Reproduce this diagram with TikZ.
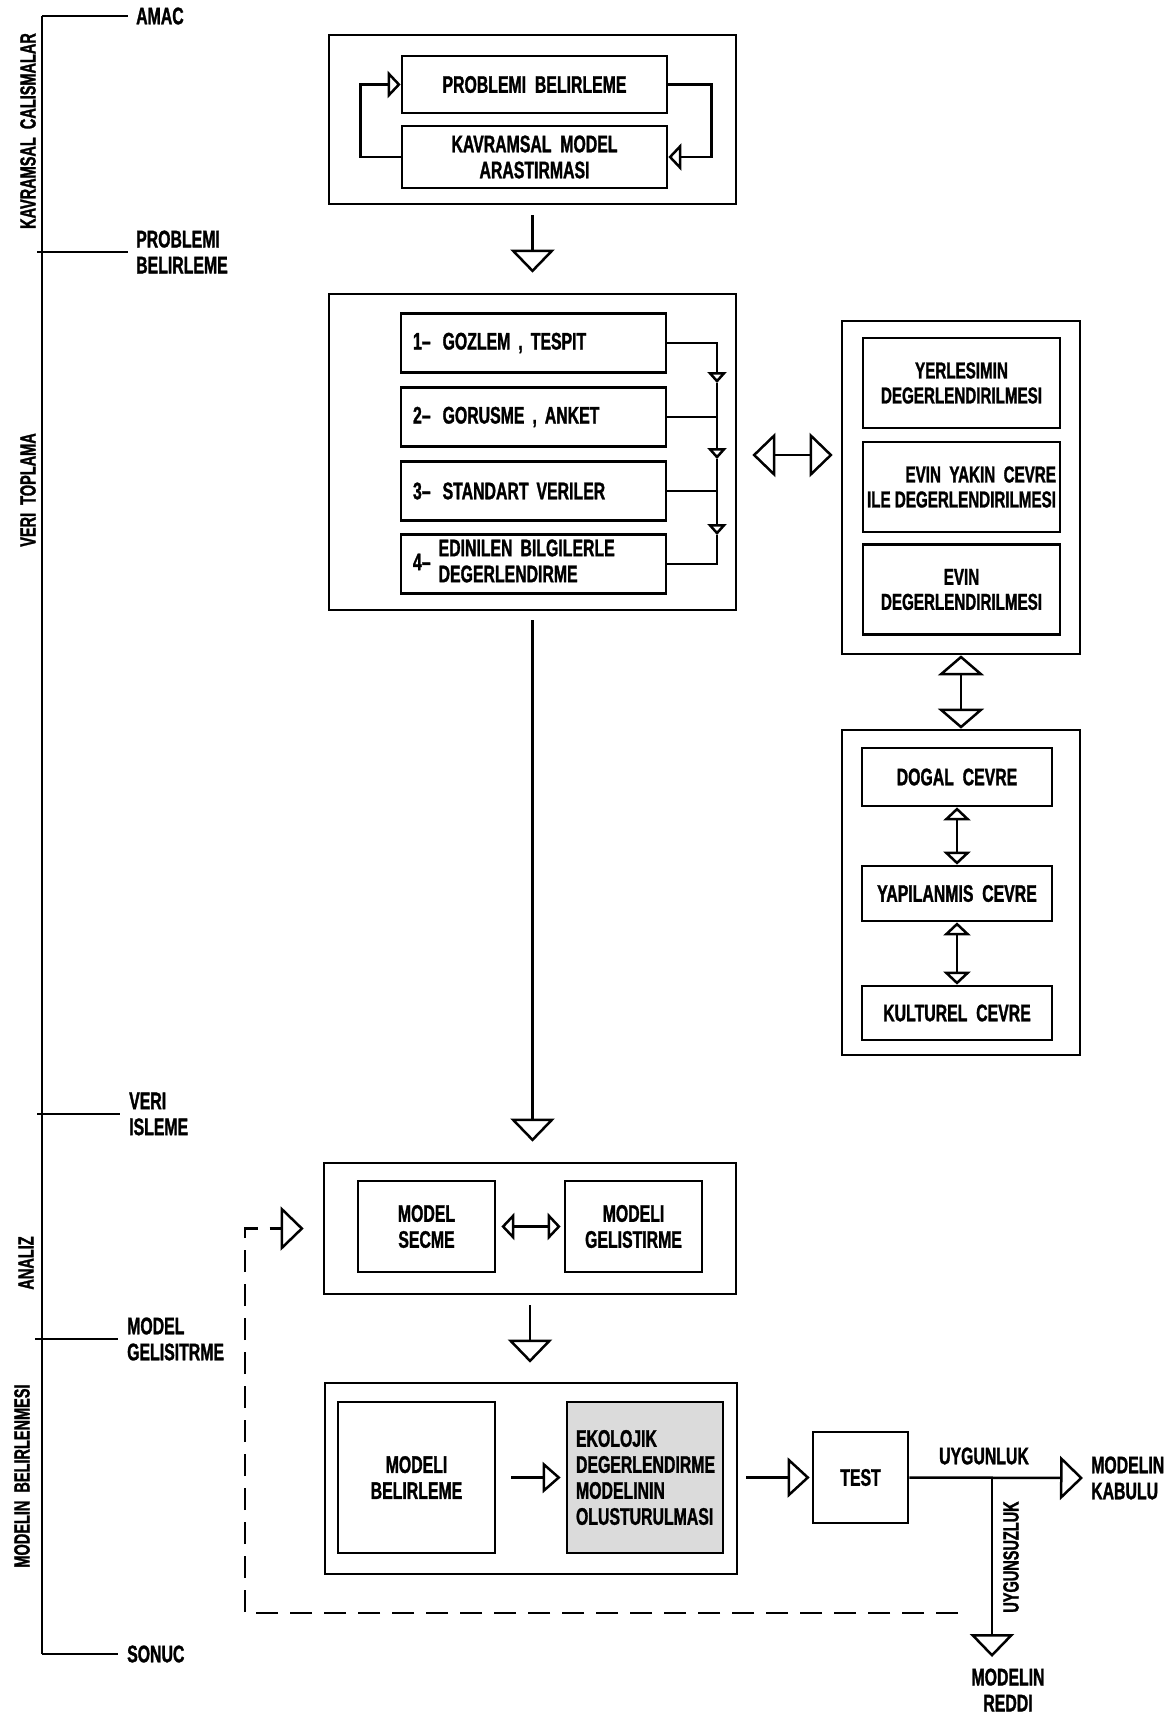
\documentclass[tikz,border=0pt]{standalone}
\usepackage{fontspec}
\setmainfont{Liberation Sans}[FakeStretch=0.66,BoldFeatures={FakeBold=1.3}]
\usetikzlibrary{arrows.meta}
\newcommand\bxfont{\fontsize{24}{26}\selectfont\bfseries}
\newcommand\cxfont{\fontsize{23}{25}\selectfont\bfseries}
\newcommand\sdfont{\fontsize{22}{24}\selectfont\bfseries}
\tikzset{
  bigtip/.tip={Triangle[open,length=23pt,width=44pt]},
  midtip/.tip={Triangle[open,length=18pt,width=31pt]},
  smalltip/.tip={Triangle[open,length=13pt,width=27pt]},
  tinytip/.tip={Triangle[open,length=11pt,width=19pt]},
  box/.style={draw,line width=2.7pt,rectangle,inner sep=0pt,align=center,font=\bxfont},
  wire/.style={line width=2.5pt},
  tickln/.style={line width=2.2pt},
  lbl/.style={inner sep=0pt,font=\bxfont,align=left},
  sidelbl/.style={inner sep=0pt,font=\sdfont,rotate=90},
}
\begin{document}
\begin{tikzpicture}[x=1pt,y=-1pt]
\useasboundingbox (0,0) rectangle (1171,1717);

% ---------- time line on the left ----------
\coordinate (tTop) at (42,16);
\coordinate (tBot) at (42,1654);
\draw[line width=2.7pt] (tTop) -- (tBot);
\node[lbl,anchor=west] (lAMAC) at (136,16) {AMAC};
\node[lbl,anchor=west] (lPB) at (136,252) {PROBLEMI\\BELIRLEME};
\node[lbl,anchor=west] (lVI) at (129,1114) {VERI\\ISLEME};
\node[lbl,anchor=west] (lMG) at (127,1339) {MODEL\\GELISITRME};
\node[lbl,anchor=west] (lSO) at (127,1654) {SONUC};
\coordinate (kPB) at (37,252);
\coordinate (kVI) at (37,1114);
\coordinate (kMG) at (35,1339);
\draw[tickln,shorten >=8pt] (tTop) -- (lAMAC.west);
\draw[tickln,shorten >=8pt] (kPB) -- (lPB.west);
\draw[tickln,shorten >=9pt] (kVI) -- (lVI.west);
\draw[tickln,shorten >=9pt] (kMG) -- (lMG.west);
\draw[tickln,shorten >=9pt] (tBot) -- (lSO.west);
\node[sidelbl] (sK) at (28,131) {KAVRAMSAL\ \ CALISMALAR};
\node[sidelbl] (sV) at (28,490) {VERI\ \ TOPLAMA};
\node[sidelbl] (sA) at (26,1263) {ANALIZ};
\node[sidelbl] (sM) at (22,1476) {MODELIN\ \ BELIRLENMESI};

% ---------- block A ----------
\node[box,minimum width=407pt,minimum height=169pt] (A) at (532.5,119.5) {};
\node[box,minimum width=265pt,minimum height=57pt] (A1) at (534.5,84.5) {PROBLEMI\ \ BELIRLEME};
\node[box,minimum width=265pt,minimum height=62pt] (A2) at (534.5,157) {KAVRAMSAL\ \ MODEL\\ARASTIRMASI};
\draw[wire,-smalltip] (A2.west) -- ++(-40,0) |- (A1.west);
\draw[wire,-smalltip] (A1.east) -- ++(43,0) |- (A2.east);

% ---------- block B ----------
\node[box,minimum width=407pt,minimum height=316pt] (B) at (532.5,452) {};
\tikzset{bbox/.style={box,minimum height=59pt,text width=241pt,inner xsep=12pt,align=left}}
\node[bbox] (B1) at (533.5,343) {1--\hspace{12pt}GOZLEM\hspace{8pt},\hspace{8pt}TESPIT};
\node[bbox] (B2) at (533.5,417) {2--\hspace{12pt}GORUSME\hspace{8pt},\hspace{8pt}ANKET};
\node[bbox] (B3) at (533.5,491) {3--\hspace{12pt}STANDART\hspace{8pt}VERILER};
\node[bbox] (B4) at (533.5,564) {4--\hspace{8pt}\begin{tabular}[c]{@{}l@{}}EDINILEN\hspace{8pt}BILGILERLE\\DEGERLENDIRME\end{tabular}};
\coordinate (t1) at (717,383);
\coordinate (t2) at (717,459);
\coordinate (t3) at (717,535);
\draw[wire,-tinytip] (B1.east) -| (t1);
\draw[wire,-tinytip] (t1) -- (t2);
\draw[wire,-tinytip] (t2) -- (t3);
\draw[wire] (t3) |- (B4.east);
\draw[wire] (B2.east) -- (B2.east -| t1);
\draw[wire] (B3.east) -- (B3.east -| t1);
\draw[wire,-bigtip,shorten <=10pt,shorten >=20pt] (A.south) -- (A.south |- B.north);

% ---------- block C ----------
\node[box,minimum width=238pt,minimum height=333pt] (C) at (961,487.5) {};
\tikzset{cbox/.style={box,font=\cxfont,minimum width=197pt,minimum height=90pt}}
\node[cbox] (C1) at (961.5,383) {YERLESIMIN\\DEGERLENDIRILMESI};
\node[cbox,align=right] (C2) at (961.5,487) {EVIN\ \ YAKIN\ \ CEVRE\\ILE\ DEGERLENDIRILMESI};
\node[cbox] (C3) at (961.5,589.5) {EVIN\\DEGERLENDIRILMESI};
\coordinate (yBC) at (0,455);
\draw[wire,bigtip-bigtip,shorten <=15pt,shorten >=8pt] (B.east |- yBC) -- (C.west |- yBC);

% ---------- block D ----------
\node[box,minimum width=238pt,minimum height=325pt] (D) at (961,892.5) {};
\tikzset{dbox/.style={box,minimum width=190pt}}
\node[dbox,minimum height=58pt] (D1) at (957,777) {DOGAL\ \ CEVRE};
\node[dbox,minimum height=55pt] (D2) at (957,893.5) {YAPILANMIS\ \ CEVRE};
\node[dbox,minimum height=54pt] (D3) at (957,1013) {KULTUREL\ \ CEVRE};
\draw[wire,{Triangle[open,length=20pt,width=46pt]}-{Triangle[open,length=20pt,width=46pt]}] (C.south) -- (D.north);
\draw[wire,smalltip-smalltip] (D1.south) -- (D2.north);
\draw[wire,smalltip-smalltip] (D2.south) -- (D3.north);

% ---------- block E ----------
\node[box,minimum width=412pt,minimum height=131pt] (E) at (530,1228.5) {};
\node[box,minimum width=137pt,minimum height=91pt] (E1) at (426.5,1226.5) {MODEL\\SECME};
\node[box,minimum width=137pt,minimum height=91pt] (E2) at (633.5,1226.5) {MODELI\\GELISTIRME};
\draw[wire,smalltip-smalltip,shorten <=5pt,shorten >=3pt] (E1.east) -- (E2.west);
\draw[wire,-bigtip,shorten <=9pt,shorten >=20pt] (B.south) -- (B.south |- E.north);

% ---------- block F ----------
\node[box,minimum width=412pt,minimum height=191pt] (F) at (531,1478.5) {};
\node[box,minimum width=157pt,minimum height=151pt] (F1) at (416.5,1477.5) {MODELI\\BELIRLEME};
\node[box,fill=black!14,minimum width=156pt,minimum height=151pt,text width=138pt,inner xsep=9pt,align=left] (F2) at (645,1477.5) {EKOLOJIK\\DEGERLENDIRME\\MODELININ\\OLUSTURULMASI};
\draw[wire,-midtip,shorten <=15pt,shorten >=5pt] (F1.east) -- (F2.west);
\draw[wire,-bigtip,shorten <=10pt,shorten >=19pt] (E.south) -- (E.south |- F.north);

% ---------- test and outcomes ----------
\node[box,minimum width=95pt,minimum height=91pt] (T) at (860.5,1477.5) {TEST};
\draw[wire,-{Triangle[open,length=22pt,width=40pt]},shorten <=8pt,shorten >=2pt] (F.east |- T.west) -- (T.west);
\node[lbl,anchor=west] (KAB) at (1091,1478) {MODELIN\\KABULU};
\draw[wire,-bigtip,shorten >=8pt] (T.east) -- (KAB.west);
\node[lbl] (UY) at (984,1456) {UYGUNLUK};
\coordinate (J) at (992,1477.5);
\coordinate (Rtip) at (992,1657);
\node[lbl,align=center] (RED) at (1008,1690) {MODELIN\\REDDI};
\draw[wire,-bigtip] (J) -- (Rtip);
\node[sidelbl] (UZ) at (1011,1557) {UYGUNSUZLUK};

% ---------- dashed feedback ----------
\coordinate (dEnd) at (958,1613);
\coordinate (dB) at (245,1613);
\draw[wire,dash pattern=on 22pt off 12pt,-bigtip,shorten >=19pt] (dEnd) -- (dB) |- (E.west);
\end{tikzpicture}
\end{document}
